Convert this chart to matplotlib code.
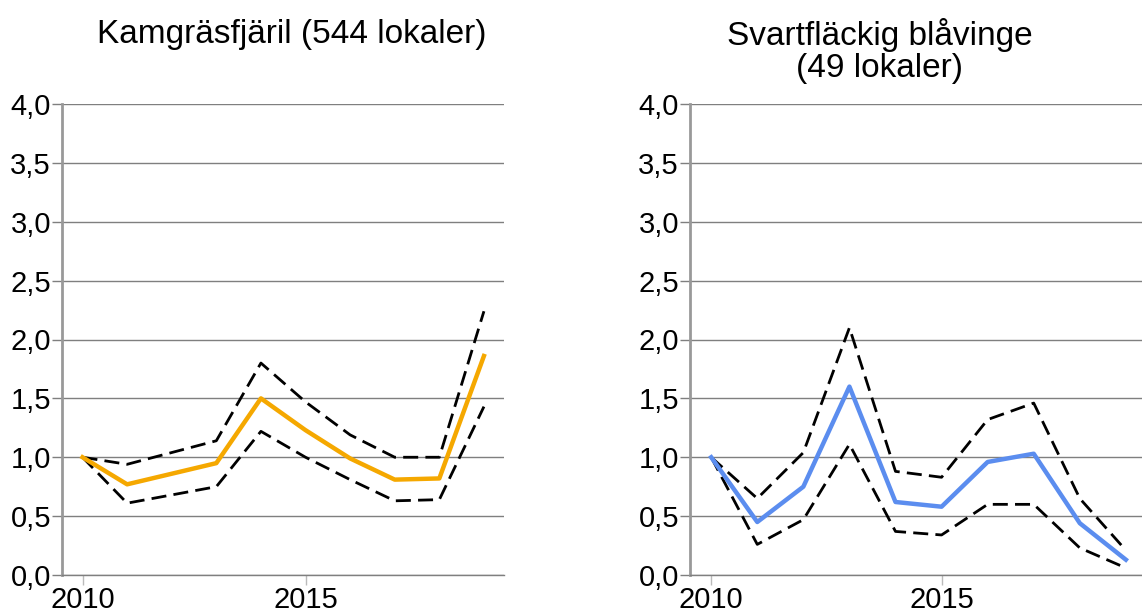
import numpy as np
import matplotlib.pyplot as plt

plt.rcParams["font.family"] = ["Liberation Sans", "DejaVu Sans"]

years = list(range(2010, 2020))

# Kamgräsfjäril (544 lokaler)
kam_index = [1.0, 0.77, 0.86, 0.95, 1.50, 1.23, 0.99, 0.81, 0.82, 1.86]
kam_upper = [1.0, 0.94, 1.04, 1.14, 1.80, 1.47, 1.19, 1.00, 1.00, 2.24]
kam_lower = [1.0, 0.61, 0.68, 0.75, 1.22, 1.00, 0.81, 0.63, 0.64, 1.43]

# Svartfläckig blåvinge (49 lokaler)
sva_index = [1.0, 0.45, 0.75, 1.60, 0.62, 0.58, 0.96, 1.03, 0.44, 0.13]
sva_upper = [1.0, 0.65, 1.04, 2.10, 0.88, 0.83, 1.32, 1.46, 0.65, 0.21]
sva_lower = [1.0, 0.26, 0.47, 1.11, 0.37, 0.34, 0.60, 0.60, 0.23, 0.06]

yticks = [0.0, 0.5, 1.0, 1.5, 2.0, 2.5, 3.0, 3.5, 4.0]
ytick_labels = [f"{v:.1f}".replace(".", ",") for v in yticks]

W, H = 1142, 615
fig = plt.figure(figsize=(W / 100, H / 100), dpi=100)

grid_col = "#7f7f7f"


def make_panel(rect, index, upper, lower, color, xmax):
    ax = fig.add_axes(rect)
    ax.set_xlim(2009.54, xmax)
    ax.set_ylim(0, 4.0)
    ax.set_yticks(yticks)
    ax.set_yticklabels(ytick_labels)
    ax.set_xticks([2010, 2015])
    ax.set_xticklabels(["2010", "2015"])
    ax.grid(axis="y", color=grid_col, linewidth=1.0)
    ax.set_axisbelow(True)
    for s in ["top", "right"]:
        ax.spines[s].set_visible(False)
    ax.spines["left"].set_color("#999999")
    ax.spines["left"].set_linewidth(2.0)
    ax.spines["bottom"].set_color(grid_col)
    ax.spines["bottom"].set_linewidth(1.0)
    ax.tick_params(axis="y", length=7, width=1.0, color=grid_col,
                   labelsize=21, pad=1)
    ax.tick_params(axis="x", length=7, width=1.0, color="#bbbbbb",
                   labelsize=21, pad=1)
    ax.plot(years, upper, color="black", linewidth=2.0, dashes=(5.4, 2.6))
    ax.plot(years, lower, color="black", linewidth=2.0, dashes=(5.4, 2.6))
    ax.plot(years, index, color=color, linewidth=3.2)
    return ax


make_panel([62 / W, 1 - 575 / H, (504 - 62) / W, (575 - 104) / H],
           kam_index, kam_upper, kam_lower, "#F5A800", 2019.45)
make_panel([690 / W, 1 - 575 / H, (1142 - 690) / W, (575 - 104) / H],
           sva_index, sva_upper, sva_lower, "#5B8DEF", 2019.35)

fig.text(292 / W, 1 - 35 / H, "Kamgräsfjäril (544 lokaler)", fontsize=24,
         ha="center", va="center")
fig.text(880 / W, 1 - 51 / H, "Svartfläckig blåvinge\n(49 lokaler)", fontsize=24,
         ha="center", va="center", linespacing=1.05)

fig.savefig("out.png", dpi=100)
